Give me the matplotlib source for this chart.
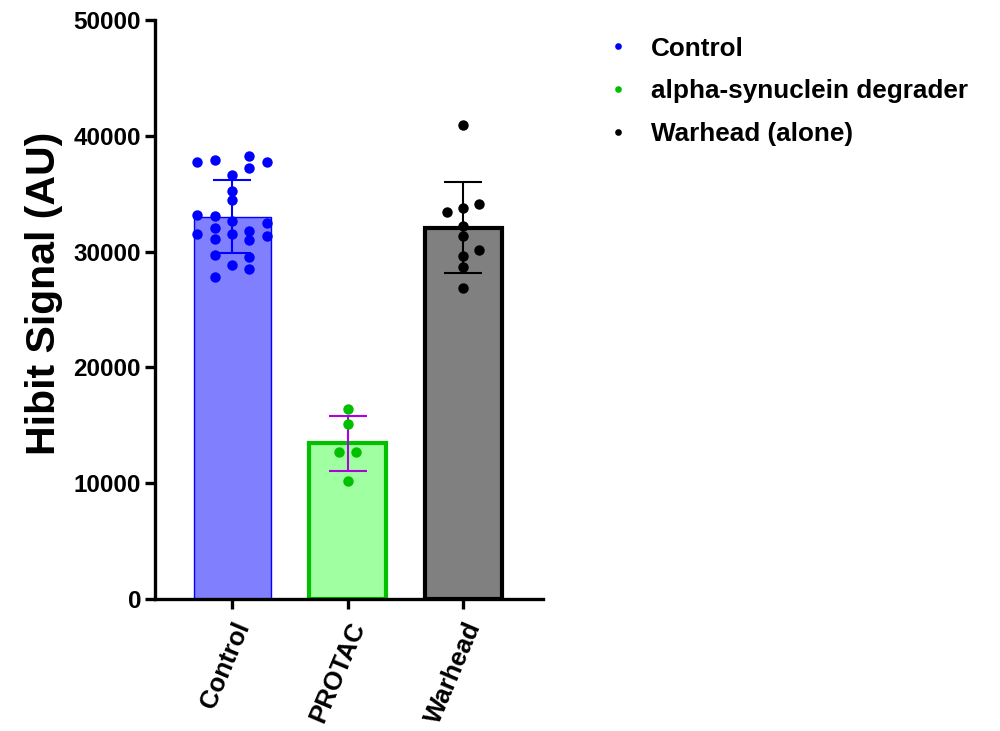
import numpy as np
import matplotlib
matplotlib.use("Agg")
import matplotlib.pyplot as plt
from matplotlib.lines import Line2D

plt.rcParams["font.family"] = ["Liberation Sans", "DejaVu Sans"]
plt.rcParams["font.weight"] = "bold"

CATEGORIES = ["Control", "PROTAC", "Warhead"]
LEGEND_LABELS = ["Control", "alpha-synuclein degrader", "Warhead (alone)"]
BAR_MEANS = [33000, 13430, 32075]
BAR_SDS = [3150, 2400, 3895]

# individual points: (lane, value); lane = horizontal column of the dot
CONTROL_LANES = [-2, -1, 1, 2, 1, 0, 0, 0, -2, -1, 0, 2, -2, -1, -1, 0, 1, 1, 2, -1, 1, 0, 1, -1]
CONTROL_VALUES = [37710, 37910, 38260, 37740, 37250, 36620, 35260, 34430, 33160, 33080,
                  32650, 32500, 31520, 32010, 31090, 31520, 31810, 31000, 31350, 29710,
                  29510, 28820, 28470, 27830]
PROTAC_LANES = [0, 0, -0.5, 0.5, 0]
PROTAC_VALUES = [16410, 15110, 12720, 12720, 10215]
WARHEAD_LANES = [0, -1, 0, 1, 0, 0, 1, 0, 0, 0]
WARHEAD_VALUES = [40935, 33395, 33790, 34085, 32185, 31375, 30140, 29620, 28670, 26830]

FILL = ["#8080FF", "#A0FFA0", "#808080"]
EDGE = ["#0000FF", "#00C000", "#000000"]
EDGE_W = [1.0, 3.0, 3.0]
DOT = ["#0000FF", "#00C000", "#000000"]
ERR = ["#0000FF", "#B000E0", "#000000"]
LANE_STEP = [0.15, 0.145, 0.14]

fig = plt.figure(figsize=(10, 7.31), dpi=100)
ax = fig.add_axes([0.155, 0.1806, 0.388, 0.792])

x = np.arange(len(CATEGORIES))
points = [(CONTROL_LANES, CONTROL_VALUES), (PROTAC_LANES, PROTAC_VALUES),
          (WARHEAD_LANES, WARHEAD_VALUES)]

for i in range(len(CATEGORIES)):
    ax.bar(x[i], BAR_MEANS[i], width=0.667, color=FILL[i], edgecolor=EDGE[i],
           linewidth=EDGE_W[i], zorder=1)
    ax.errorbar(x[i], BAR_MEANS[i], yerr=BAR_SDS[i], fmt="none", ecolor=ERR[i],
                elinewidth=1.5, capsize=14, capthick=1.5, zorder=2)
    lanes, vals = points[i]
    xs = x[i] + np.array(lanes) * LANE_STEP[i]
    ax.plot(xs, vals, "o", color=DOT[i], markersize=7.5, markeredgewidth=0, zorder=3)

ax.set_xlim(-0.667, 2.69)
ax.set_ylim(0, 50000)
ax.set_yticks(np.arange(0, 50001, 10000))
ax.set_xticks(x)
ax.set_xticklabels(CATEGORIES, rotation=67, ha="right", rotation_mode="anchor",
                   fontsize=18.5, fontweight="bold")
for lab in ax.get_yticklabels():
    lab.set_fontsize(17.5)
    lab.set_fontweight("bold")
ax.set_ylabel("Hibit Signal (AU)", fontsize=29.5, fontweight="bold")
ax.yaxis.set_label_coords(-0.238, 0.527)

for s in ["top", "right"]:
    ax.spines[s].set_visible(False)
for s in ["left", "bottom"]:
    ax.spines[s].set_linewidth(2.4)
ax.tick_params(width=2.4, length=7, pad=3)
ax.tick_params(axis="x", pad=7)

handles = [Line2D([], [], marker="o", linestyle="none", color=c, markersize=4.8,
                  markeredgewidth=0) for c in DOT]
fig.legend(handles, LEGEND_LABELS, loc="upper left", bbox_to_anchor=(0.605, 0.950),
           frameon=False, handlelength=1.0, handletextpad=0.75,
           borderpad=0, borderaxespad=0, labelspacing=0.72,
           prop={"weight": "bold", "size": 18.8})

fig.savefig("out.png", dpi=100)
